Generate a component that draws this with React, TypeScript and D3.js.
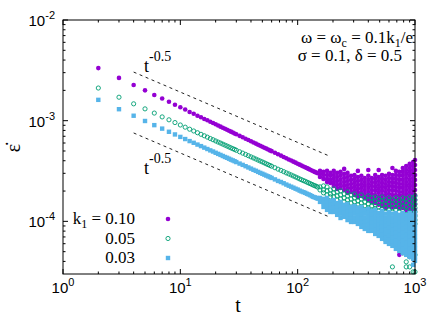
import * as d3 from "d3";

// strain rate values are in units of 1e-4
const tClean = [
  2, 3, 4, 5, 6, 7, 8, 9, 10, 11, 12, 13, 14, 15, 16, 17, 18, 19, 20, 21, 22, 23, 24, 25, 26, 27, 28, 29, 30,
  32, 34, 36, 38, 40, 42, 44, 46, 48, 50, 52, 54, 56, 58, 60,
  64, 68, 72, 76, 80, 84, 88, 92, 96, 100, 104, 108, 112, 116, 120, 124, 128, 132, 136, 140, 144, 148,
];
const k010Clean = [
  33.3, 26.6, 22.6, 20.0, 18.0, 16.6, 15.4, 14.4, 13.6, 12.9, 12.2, 11.7, 11.2, 10.8, 10.4, 10.1, 9.76, 9.47, 9.2, 8.95, 8.72, 8.51, 8.31, 8.12, 7.94, 7.78, 7.62, 7.47, 7.33,
  7.07, 6.84, 6.62, 6.43, 6.24, 6.08, 5.92, 5.77, 5.64, 5.51, 5.39, 5.28, 5.17, 5.07, 4.98,
  4.8, 4.64, 4.5, 4.36, 4.24, 4.12, 4.02, 3.92, 3.83, 3.74, 3.66, 3.58, 3.51, 3.44, 3.38, 3.32, 3.26, 3.2, 3.15, 3.1, 3.05, 3.0,
];
const k005Clean = [
  21.1, 17.1, 14.7, 13.1, 11.9, 10.9, 10.2, 9.58, 9.06, 8.62, 8.23, 7.9, 7.59, 7.32, 7.08, 6.86, 6.65, 6.47, 6.29, 6.13, 5.99, 5.85, 5.72, 5.6, 5.48, 5.37, 5.27, 5.18, 5.08,
  4.91, 4.76, 4.62, 4.49, 4.37, 4.26, 4.16, 4.06, 3.97, 3.89, 3.81, 3.73, 3.66, 3.59, 3.53,
  3.41, 3.3, 3.21, 3.12, 3.03, 2.96, 2.89, 2.82, 2.76, 2.7, 2.64, 2.59, 2.54, 2.5, 2.45, 2.41, 2.37, 2.33, 2.29, 2.26, 2.23, 2.19,
];
const k003Clean = [
  16.1, 13.0, 11.2, 9.93, 9.03, 8.34, 7.76, 7.3, 6.9, 6.57, 6.27, 6.03, 5.79, 5.59, 5.4, 5.23, 5.07, 4.94, 4.8, 4.68, 4.57, 4.46, 4.36, 4.28, 4.19, 4.1, 4.03, 3.96, 3.88,
  3.75, 3.64, 3.53, 3.43, 3.34, 3.25, 3.18, 3.1, 3.03, 2.97, 2.91, 2.85, 2.8, 2.75, 2.7,
  2.61, 2.52, 2.46, 2.39, 2.32, 2.26, 2.21, 2.16, 2.11, 2.07, 2.02, 1.98, 1.95, 1.92, 1.88, 1.85, 1.82, 1.78, 1.75, 1.73, 1.71, 1.68,
];

// late times: many scattered values per time
const tScatter = [155, 166, 178, 190, 203, 217, 232, 249, 266, 285, 305, 326, 349, 373, 400, 428, 458, 490, 524, 561, 600, 642, 687, 735, 787, 842, 901, 964, 1000];
const k010Scatter = [
  [3.17, 2.96, 2.76],
  [3.1, 2.89, 2.64],
  [3.17, 2.89, 2.64, 2.46],
  [3.03, 2.83, 2.58, 2.41],
  [3.17, 2.89, 2.64, 2.41, 2.25],
  [3.03, 2.76, 2.52, 2.3, 2.1],
  [3.1, 2.83, 2.58, 2.35, 2.15],
  [3.32, 2.96, 2.7, 2.46, 2.25, 2.05],
  [3.03, 2.76, 2.52, 2.3, 2.1, 1.92],
  [2.83, 2.58, 2.35, 2.15, 1.96],
  [2.89, 2.64, 2.41, 2.2, 2.01, 1.83],
  [3.17, 2.76, 2.52, 2.3, 2.1, 1.92, 1.75],
  [2.83, 2.58, 2.35, 2.15, 1.96, 1.79],
  [2.7, 2.46, 2.25, 2.05, 1.87, 1.71],
  [3.24, 2.83, 2.58, 2.35, 2.15, 1.96, 1.79, 1.63],
  [2.7, 2.46, 2.25, 2.05, 1.87, 1.71, 1.56],
  [2.89, 2.64, 2.41, 2.2, 2.01, 1.83, 1.67, 1.52],
  [3.24, 2.76, 2.52, 2.3, 2.1, 1.92, 1.75, 1.6, 1.46],
  [2.89, 2.64, 2.41, 2.2, 2.01, 1.83, 1.67, 1.52, 1.42],
  [2.83, 2.58, 2.35, 2.15, 1.96, 1.79, 1.63, 1.49, 1.36],
  [2.96, 2.7, 2.46, 2.25, 2.05, 1.87, 1.71, 1.56, 1.42],
  [3.39, 2.89, 2.64, 2.41, 2.2, 2.01, 1.83, 1.67, 1.52, 1.39],
  [3.17, 2.89, 2.64, 2.41, 2.2, 2.01, 1.83, 1.67, 1.52, 1.39],
  [3.1, 2.83, 2.58, 2.35, 2.15, 1.96, 1.79, 1.63, 1.49, 1.36, 0.465],
  [3.39, 3.1, 2.83, 2.58, 2.35, 2.15, 1.96, 1.79, 1.63, 1.49, 1.36, 0.486],
  [3.55, 3.24, 2.96, 2.7, 2.46, 2.25, 2.05, 1.87, 1.71, 1.56, 1.42, 1.3],
  [3.72, 3.39, 3.1, 2.83, 2.58, 2.35, 2.15, 1.96, 1.79, 1.63, 1.49, 1.36, 1.24],
  [3.89, 3.55, 3.24, 2.96, 2.7, 2.46, 2.25, 2.05, 1.87, 1.71, 1.56, 1.42, 1.3, 1.19],
  [4.07, 3.63, 3.24, 2.89, 2.58, 2.3, 2.05, 1.83, 1.63, 1.46, 1.3, 1.16],
];
const k005Scatter = [
  [2.2, 2.05],
  [2.25, 2.05, 1.92],
  [2.2, 2.01, 1.83],
  [2.05, 1.87, 1.75],
  [2.1, 1.92, 1.75],
  [1.96, 1.79, 1.63],
  [2.01, 1.83, 1.67],
  [1.87, 1.71, 1.56],
  [1.96, 1.79, 1.63, 1.49],
  [1.83, 1.67, 1.52],
  [1.87, 1.71, 1.56, 1.42],
  [1.75, 1.6, 1.46, 1.36],
  [1.83, 1.67, 1.52, 1.39],
  [1.71, 1.56, 1.42, 1.3],
  [1.79, 1.63, 1.49, 1.36, 1.27],
  [1.71, 1.56, 1.42, 1.3, 1.21],
  [1.75, 1.6, 1.46, 1.33, 1.21],
  [1.67, 1.52, 1.39, 1.27],
  [1.75, 1.6, 1.46, 1.33, 1.21],
  [1.63, 1.49, 1.36, 1.24, 1.13, 0.654],
  [1.71, 1.56, 1.42, 1.3, 1.19],
  [1.63, 1.49, 1.36, 1.24, 1.13, 0.353],
  [1.71, 1.56, 1.42, 1.3, 1.19, 1.08],
  [1.63, 1.49, 1.36, 1.24, 1.13, 1.03],
  [1.71, 1.56, 1.42, 1.3, 1.19, 1.08, 0.486],
  [1.67, 1.52, 1.39, 1.27, 1.16, 1.06, 0.396, 0.353],
  [1.75, 1.6, 1.46, 1.33, 1.21, 1.11, 1.01, 0.444, 0.353],
  [1.71, 1.56, 1.42, 1.3, 1.19, 1.08, 0.987, 0.315],
  [1.79, 1.63, 1.49, 1.36, 1.24, 1.13, 1.03, 0.943, 0.465, 0.315],
];
const k003Scatter = [
  [1.71, 1.56],
  [1.67, 1.52, 1.39],
  [1.71, 1.56, 1.42, 1.3],
  [1.6, 1.46, 1.33, 1.24],
  [1.63, 1.49, 1.36, 1.24],
  [1.52, 1.39, 1.27, 1.16],
  [1.56, 1.42, 1.3, 1.19, 1.08],
  [1.46, 1.33, 1.21, 1.11],
  [1.49, 1.36, 1.24, 1.13, 1.03],
  [1.39, 1.27, 1.16, 1.06, 0.987],
  [1.42, 1.3, 1.19, 1.08, 0.987],
  [1.36, 1.24, 1.13, 1.03, 0.943],
  [1.39, 1.27, 1.16, 1.06, 0.965, 0.881],
  [1.3, 1.19, 1.08, 0.987, 0.901, 0.841],
  [1.33, 1.21, 1.11, 1.01, 0.922, 0.841, 0.804],
  [1.27, 1.16, 1.06, 0.965, 0.881, 0.804],
  [1.3, 1.19, 1.08, 0.987, 0.901, 0.822, 0.75],
  [1.21, 1.11, 1.01, 0.922, 0.841, 0.768, 0.717],
  [1.27, 1.16, 1.06, 0.965, 0.881, 0.804, 0.733, 0.67],
  [1.19, 1.08, 0.987, 0.901, 0.822, 0.75, 0.685, 0.625],
  [1.24, 1.13, 1.03, 0.943, 0.861, 0.786, 0.717, 0.654, 0.597],
  [1.19, 1.08, 0.987, 0.901, 0.822, 0.75, 0.685, 0.625, 0.571],
  [1.21, 1.11, 1.01, 0.922, 0.841, 0.768, 0.701, 0.64, 0.584, 0.533],
  [1.16, 1.06, 0.965, 0.881, 0.804, 0.733, 0.67, 0.611, 0.558, 0.509],
  [1.21, 1.11, 1.01, 0.922, 0.841, 0.768, 0.701, 0.64, 0.584, 0.533, 0.486],
  [1.16, 1.06, 0.965, 0.881, 0.804, 0.733, 0.67, 0.611, 0.558, 0.509, 0.465],
  [1.21, 1.11, 1.01, 0.922, 0.841, 0.768, 0.701, 0.64, 0.584, 0.533, 0.486, 0.444],
  [1.16, 1.06, 0.965, 0.881, 0.804, 0.733, 0.67, 0.611, 0.558, 0.509, 0.465, 0.424, 0.37],
  [1.21, 1.11, 1.01, 0.922, 0.841, 0.768, 0.701, 0.64, 0.584, 0.533, 0.486, 0.444, 0.405],
];

// t^-0.5 guide lines
const guideT = [4, 190];
const guideUpper = [3.04e-3, 4.41e-4];
const guideLower = [7.55e-4, 1.095e-4];

const legendLabels = ["0.10", "0.05", "0.03"];

const W = 436;
const H = 323;
const margin = { top: 20, right: 21, bottom: 49, left: 63 };
const serif = { fontFamily: "Liberation Serif, Times New Roman, DejaVu Serif, serif" };
const sans = { fontFamily: "Liberation Sans, Arial, Helvetica, sans-serif" };
const colors = ["#9400D3", "#009E73", "#56B4E9"];

const toPoints = (clean: number[], scatter: number[][]) => [
  ...tClean.map((t, i) => ({ t, v: clean[i] * 1e-4 })),
  ...tScatter.flatMap((t, i) => scatter[i].map((v) => ({ t, v: v * 1e-4 }))),
];

const series = [
  toPoints(k010Clean, k010Scatter),
  toPoints(k005Clean, k005Scatter),
  toPoints(k003Clean, k003Scatter),
];

const isMajor = (v: number) => Math.abs(Math.log10(v) - Math.round(Math.log10(v))) < 1e-6;

//marker by series index
const Marker = ({ i, cx, cy }: { i: number; cx: number; cy: number }) => {
  if (i === 0) return <circle cx={cx} cy={cy} r={2.3} fill={colors[0]} />;
  if (i === 1)
    return <circle cx={cx} cy={cy} r={2.1} fill="none" stroke={colors[1]} strokeWidth={0.9} />;
  return <rect x={cx - 2.2} y={cy - 2.2} width={4.4} height={4.4} fill={colors[2]} />;
};

const App = () => {
  const x = d3.scaleLog().domain([1, 1000]).range([margin.left, W - margin.right]);
  const y = d3.scaleLog().domain([3e-5, 1e-2]).range([H - margin.bottom, margin.top]);
  const [x0, x1] = x.range();
  const [y0, y1] = y.range();

  const xTicks = x.ticks();
  const yTicks = y.ticks().filter((v) => v > 3.01e-5);

  const guide = d3
    .line<number>()
    .x((_, i) => x(guideT[i]))
    .y((d) => y(d));

  return (
    <svg width={W} height={H} style={{ position: "absolute", left: 0, top: 0, background: "#fff" }}>
      {/* data */}
      {series.map((pts, si) => (
        <g key={si}>
          {pts.map((p, j) => (
            <Marker key={j} i={si} cx={x(p.t)} cy={y(p.v)} />
          ))}
        </g>
      ))}

      {/* guide lines */}
      {[guideUpper, guideLower].map((g, i) => (
        <path key={i} d={guide(g) || ""} fill="none" stroke="#222" strokeWidth={1} strokeDasharray="3,3.5" />
      ))}
      <text x={144} y={72} style={serif} fontSize={18}>
        t<tspan dy={-11} fontSize={14}>-0.5</tspan>
      </text>
      <text x={144} y={174} style={serif} fontSize={18}>
        t<tspan dy={-11} fontSize={14}>-0.5</tspan>
      </text>

      {/* ticks */}
      {xTicks.map((v, i) => {
        const len = isMajor(v) ? 5 : 2.5;
        return (
          <g key={i} stroke="#000" strokeWidth={1}>
            <line x1={x(v)} x2={x(v)} y1={y0} y2={y0 - len} />
            <line x1={x(v)} x2={x(v)} y1={y1} y2={y1 + len} />
          </g>
        );
      })}
      {yTicks.map((v, i) => {
        const len = isMajor(v) ? 5 : 2.5;
        return (
          <g key={i} stroke="#000" strokeWidth={1}>
            <line x1={x0} x2={x0 + len} y1={y(v)} y2={y(v)} />
            <line x1={x1} x2={x1 - len} y1={y(v)} y2={y(v)} />
          </g>
        );
      })}
      <rect x={x0} y={y1} width={x1 - x0} height={y0 - y1} fill="none" stroke="#000" strokeWidth={1} />

      {/* tick labels */}
      {xTicks.filter(isMajor).map((v, i) => (
        <text key={i} x={x(v)} y={293} textAnchor="middle" style={sans} fontSize={15}>
          10<tspan dy={-7} fontSize={11}>{Math.round(Math.log10(v))}</tspan>
        </text>
      ))}
      {yTicks.filter(isMajor).map((v, i) => (
        <text key={i} x={55} y={y(v) + 6} textAnchor="end" style={sans} fontSize={15}>
          10<tspan dy={-7} fontSize={11}>{Math.round(Math.log10(v))}</tspan>
        </text>
      ))}

      {/* axis titles */}
      <text x={238} y={312} textAnchor="middle" style={serif} fontSize={20}>t</text>
      <text transform="translate(20,148) rotate(-90)" textAnchor="middle" style={serif} fontSize={20}>
        ε̇
      </text>

      {/* parameters */}
      <text x={413} y={43} textAnchor="end" style={serif} fontSize={17}>
        ω = ω<tspan dy={4} fontSize={12}>c</tspan>
        <tspan dy={-4}> = 0.1k</tspan>
        <tspan dy={4} fontSize={12}>1</tspan>
        <tspan dy={-4}>/e</tspan>
      </text>
      <text x={402} y={61} textAnchor="end" style={serif} fontSize={17}>
        σ = 0.1, δ = 0.5
      </text>

      {/* legend */}
      {legendLabels.map((lab, i) => (
        <g key={i}>
          <text x={135} y={224 + i * 19.5} textAnchor="end" style={serif} fontSize={17}>
            {i === 0 ? (
              <>
                k<tspan dy={4} fontSize={12}>1</tspan>
                <tspan dy={-4}> = {lab}</tspan>
              </>
            ) : (
              lab
            )}
          </text>
          <Marker i={i} cx={168} cy={219 + i * 19.5} />
        </g>
      ))}
    </svg>
  );
};

export default App;
